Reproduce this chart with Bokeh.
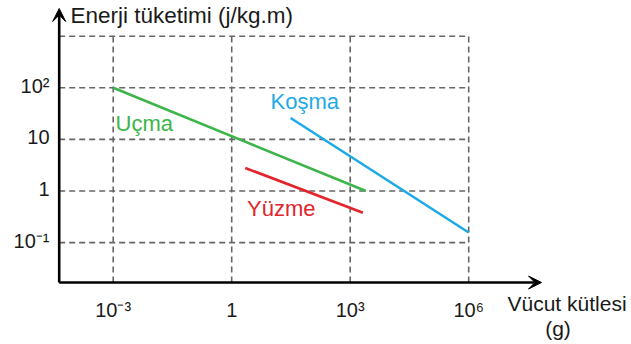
from bokeh.plotting import figure
from bokeh.models import Range1d, Arrow, VeeHead, Label
from bokeh.core.properties import value
from bokeh.embed import file_html
from bokeh.resources import INLINE

# ---- data ----
x_ticks = [1e-3, 1, 1e3, 1e6]
x_tick_labels = ["10⁻³", "1", "10³", "10⁶"]
y_ticks = [1e-1, 1, 10, 1e2]
y_tick_labels = ["10⁻¹", "1", "10", "10²"]
y_grid_top = 1e3

ucma_x = [1e-3, 2500]
ucma_y = [100, 1.0]
kosma_x = [31, 1e6]
kosma_y = [26, 0.157]
yuzme_x = [2.2, 2100]
yuzme_y = [2.8, 0.38]

x_title = "Vücut kütlesi"
x_unit = "(g)"
y_title = "Enerji tüketimi (j/kg.m)"

# ---- pixel helpers (canvas px -> data) ----
X0, SX = 231.2, 39.5
Y0, SY = 190.5, 51.6
def xv(px):
    return 10 ** ((px - X0) / SX)
def yv(py):
    return 10 ** ((Y0 - py) / SY)

W, H = 628, 342
FONT = "Liberation Sans"
GREEN = "#3db54a"
BLUE = "#1eaae6"
RED = "#e2242b"
GRID = "#666666"
INK = "#1a1a1a"

p = figure(width=W, height=H, x_axis_type="log", y_axis_type="log",
           x_range=Range1d(xv(0), xv(W)), y_range=Range1d(yv(H), yv(0)),
           x_axis_location=None, y_axis_location=None,
           output_backend="svg", toolbar_location=None,
           min_border_left=0, min_border_right=0, min_border_top=0, min_border_bottom=0)
p.title.visible = False
p.outline_line_color = None
p.grid.visible = False

AX_X = xv(58.7)
AX_Y = yv(282)

# dashed grid
p.segment(x0=[AX_X] * (len(y_ticks) + 1), y0=y_ticks + [y_grid_top],
          x1=[x_ticks[-1]] * (len(y_ticks) + 1), y1=y_ticks + [y_grid_top],
          line_color=GRID, line_width=1.6, line_dash="6 4")
p.segment(x0=x_ticks, y0=[AX_Y] * len(x_ticks), x1=x_ticks, y1=[y_grid_top] * len(x_ticks),
          line_color=GRID, line_width=1.6, line_dash="6 4")

# series
p.line(ucma_x, ucma_y, line_color=GREEN, line_width=2.6)
p.line(kosma_x, kosma_y, line_color=BLUE, line_width=2.6)
p.line(yuzme_x, yuzme_y, line_color=RED, line_width=2.6)

# axes arrows
p.add_layout(Arrow(x_start=AX_X, y_start=AX_Y, x_end=xv(541), y_end=AX_Y, line_color="black", line_width=2.6,
                   end=VeeHead(size=13, fill_color="black", line_color="black", line_width=1)))
p.add_layout(Arrow(x_start=AX_X, y_start=AX_Y, x_end=AX_X, y_end=yv(8), line_color="black", line_width=2.6,
                   end=VeeHead(size=13, fill_color="black", line_color="black", line_width=1)))

# tick labels
lift = 10 ** (2 / SY)  # labels sit ~2px above their grid line
p.text(x=x_ticks, y=[yv(309.5)] * len(x_ticks), text=x_tick_labels, text_align="center",
       text_baseline="middle", text_font=value(FONT), text_font_size="20px", text_color=INK)
p.text(x=[xv(49)] * len(y_ticks), y=[t * lift for t in y_ticks], text=y_tick_labels, text_align="right",
       text_baseline="middle", text_font=value(FONT), text_font_size="20px", text_color=INK)

def lab(text, px, py, color, align="left", size="22px"):
    p.add_layout(Label(x=xv(px), y=yv(py), text=text, text_color=color, text_font=FONT,
                       text_font_size=size, text_align=align, text_baseline="middle"))

lab(y_title, 70, 15.2, INK, size="22.5px")
lab(x_title, 507, 302.5, INK, size="21px")
lab(x_unit, 557.5, 327.5, INK, align="center", size="21px")
lab("Uçma", 115, 122.8, GREEN)
lab("Koşma", 270, 101, BLUE)
lab("Yüzme", 246.5, 207.8, RED)

open("out.html", "w").write(file_html(p, INLINE))
